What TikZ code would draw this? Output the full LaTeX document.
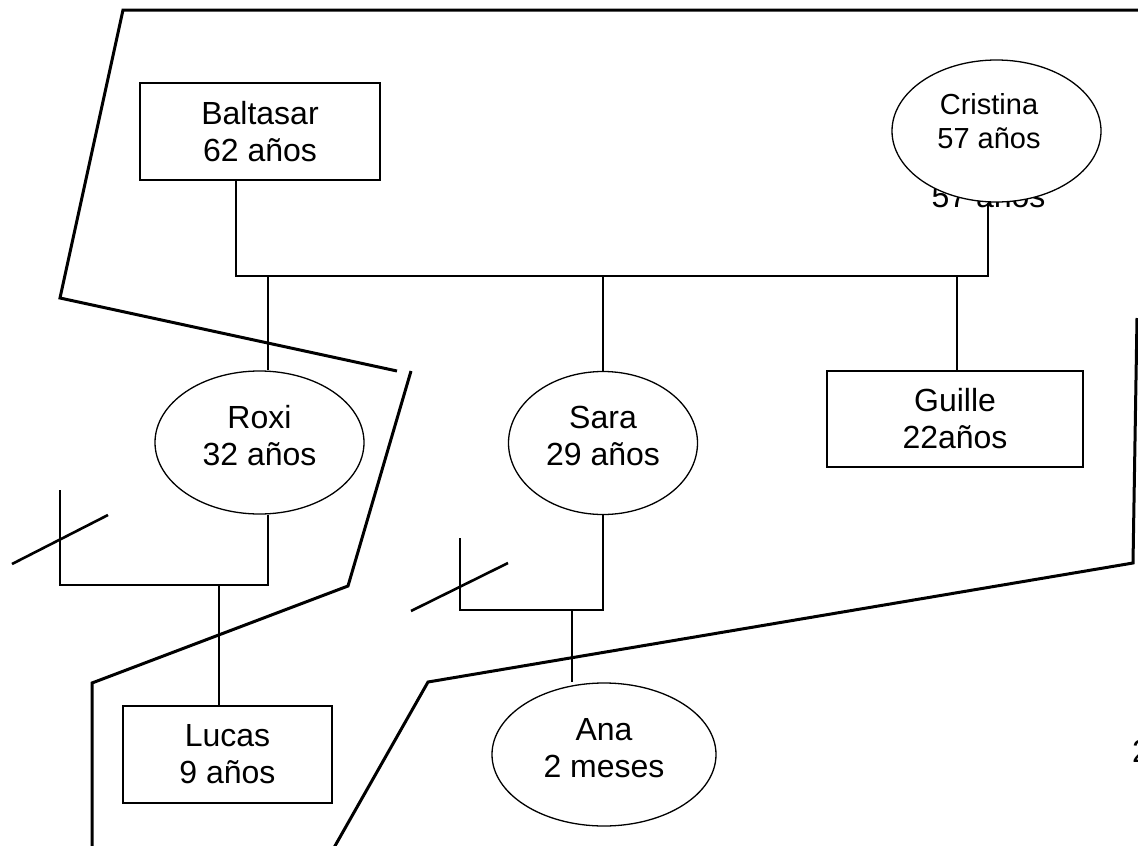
\documentclass[tikz,border=0pt]{standalone}
\usepackage{fontspec}
\setmainfont{Liberation Sans}
\usetikzlibrary{shapes.geometric}
\begin{document}
\begin{tikzpicture}[x=1pt,y=-1pt,
  big/.style={font=\fontsize{32}{37}\selectfont, align=center},
  box/.style={draw, line width=2.5pt, rectangle, inner sep=0pt, big},
  oval/.style={draw, line width=1.3pt, ellipse, inner sep=0pt, fill=white, big},
  thinline/.style={line width=1.3pt},
  heavy/.style={line width=2.6pt},
  border/.style={line width=3pt, line join=miter},
]
\useasboundingbox (0,0) rectangle (1138,846);
\clip (0,0) rectangle (1138,846);
\fill[white] (0,0) rectangle (1138,846);

% people
\node[box, minimum width=240pt, minimum height=97pt] (baltasar) at (260,131.5) {Baltasar\\62 años};
\node[big, anchor=base, inner sep=0pt] (ghost) at (988.5,207) {57 años};
\node[oval, minimum width=209pt, minimum height=142pt] (cristina) at (996.5,131) {};
\node[font=\fontsize{29}{34}\selectfont, align=center, inner sep=0pt] (cristinatext) at (989,121) {Cristina\\57 años};
\node[oval, minimum width=209pt, minimum height=143pt, text depth=15pt] (roxi) at (259.5,442.5) {Roxi\\32 años};
\node[oval, minimum width=189pt, minimum height=143pt, text depth=15pt] (sara) at (603,443) {Sara\\29 años};
\node[box, minimum width=256pt, minimum height=96pt] (guille) at (955,419) {Guille\\22años};
\node[box, minimum width=209pt, minimum height=97pt] (lucas) at (227.5,754.5) {Lucas\\9 años};
\node[oval, minimum width=224pt, minimum height=143pt, text depth=14pt] (ana) at (604,754.5) {Ana\\2 meses};
\node[big, anchor=base west, inner sep=0pt] (two) at (1132,762) {2};

% couple line
\coordinate (jl) at (236,276);
\coordinate (jr) at (988,276);
\draw[thinline] (baltasar.south -| jl) -- (jl) -- (jr) -- (cristina.south -| jr);

% children of the couple
\coordinate (r1) at (268,276);
\coordinate (s1) at (603,276);
\coordinate (g1) at (957,276);
\draw[heavy] (r1) -- (roxi.north -| r1);
\draw[heavy] (s1) -- (sara.north);
\draw[heavy] (g1) -- (guille.north -| g1);

% Roxi's union
\coordinate (rb) at (268,585);
\coordinate (ex1) at (60,490);
\draw[heavy] (roxi.south -| rb) -- (rb) -| (ex1);
\coordinate (x1a) at (12,564);
\coordinate (x1b) at (108,515);
\draw[heavy] (x1a) -- (x1b);
\coordinate (lk) at (219,585);
\draw[heavy] (lk) -- (lucas.north -| lk);

% Sara's union
\coordinate (sb) at (603,610);
\coordinate (ex2) at (460,538);
\draw[heavy] (sara.south) -- (sb) -| (ex2);
\coordinate (x2a) at (411,611);
\coordinate (x2b) at (508,563);
\draw[heavy] (x2a) -- (x2b);
\coordinate (ak) at (572,610);
\draw[heavy] (ak) -- (ana.north -| ak);

% household boundaries
\coordinate (p1) at (1150,10);
\coordinate (p2) at (123,10);
\coordinate (p3) at (60,298);
\coordinate (p4) at (397,371);
\draw[border] (p1) -- (p2) -- (p3) -- (p4);
\coordinate (q1) at (411,371);
\coordinate (q2) at (348,586);
\coordinate (q3) at (92,683);
\coordinate (q4) at (92,860);
\draw[border] (q1) -- (q2) -- (q3) -- (q4);
\coordinate (t1) at (1137,318);
\coordinate (t2) at (1133,563);
\coordinate (t3) at (428,682);
\coordinate (t4) at (327,860);
\draw[border] (t1) -- (t2) -- (t3) -- (t4);
\end{tikzpicture}
\end{document}
